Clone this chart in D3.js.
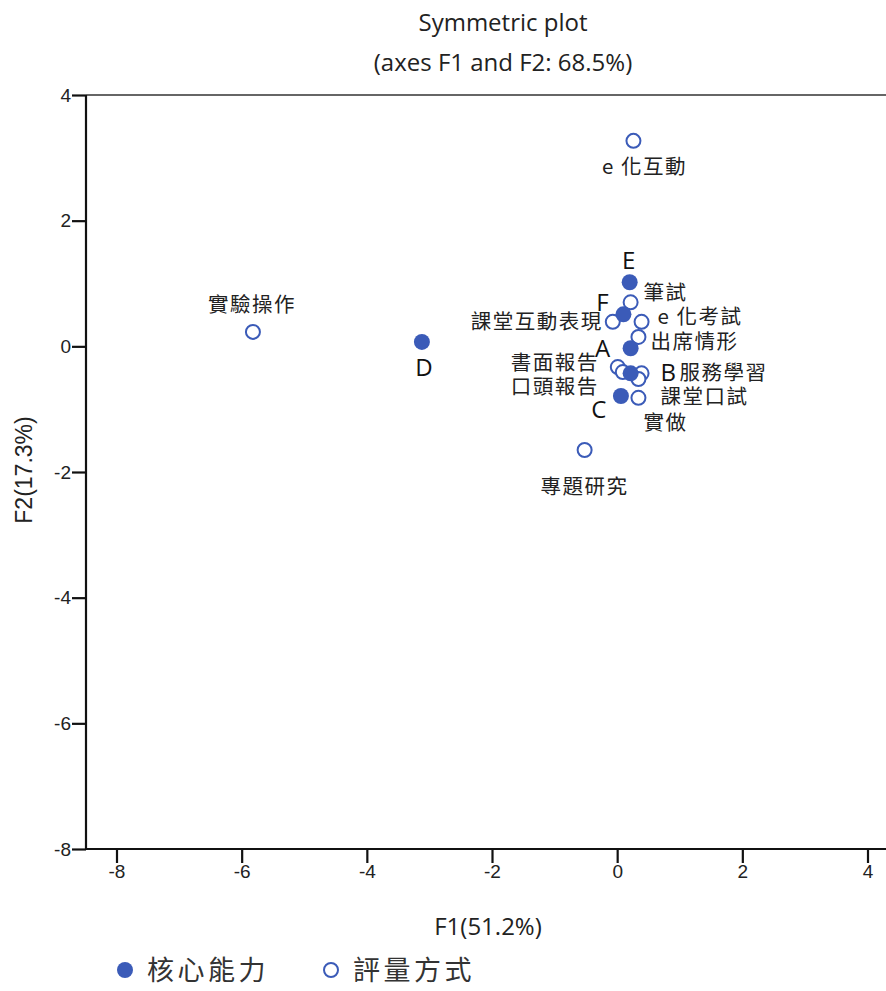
<!DOCTYPE html>
<html>
<head>
<meta charset="utf-8">
<script src="https://cdn.jsdelivr.net/npm/d3@7"></script>
<style>
  html, body { margin: 0; padding: 0; background: #fff; }
  svg { display: block; }
</style>
</head>
<body>
<svg id="chart" width="886" height="991"></svg>
<script>
// ---- Data ----
const coreLabels = ["A", "B", "C", "D", "E", "F"];
const coreF1 = [0.215, 0.215, 0.06, -3.12, 0.20, 0.10];
const coreF2 = [-0.03, -0.43, -0.79, 0.07, 1.02, 0.51];

const methodLabels = ["實驗操作", "e 化互動", "筆試", "課堂互動表現", "e 化考試", "出席情形",
                      "書面報告", "口頭報告", "服務學習", "課堂口試", "實做", "專題研究"];
const methodF1 = [-5.82, 0.26, 0.215, -0.07, 0.39, 0.34, 0.01, 0.09, 0.39, 0.34, 0.34, -0.52];
const methodF2 = [0.23, 3.27, 0.70, 0.39, 0.39, 0.15, -0.33, -0.41, -0.43, -0.52, -0.82, -1.65];

const xTicks = [-8, -6, -4, -2, 0, 2, 4];
const yTicks = [-8, -6, -4, -2, 0, 2, 4];

const titleLines = ["Symmetric plot", "(axes F1 and F2: 68.5%)"];
const xTitle = "F1(51.2%)";
const yTitle = "F2(17.3%)";
const legendNames = ["核心能力", "評量方式"];

// ---- Label placement (layout only) ----
const coreLabelPos = {
  "A": [-28, 0, "middle"], "B": [30, -1, "start"], "C": [-22, 14, "middle"],
  "D": [2, 26, "middle"], "E": [-1, -22, "middle"], "F": [-21, -12, "middle"]
};
const methodLabelPos = {
  "實驗操作": [-1, -27, "middle"], "e 化互動": [11, 26, "middle"], "筆試": [13, -10, "start"],
  "課堂互動表現": [-10, 0, "end"], "e 化考試": [16, -5, "start"], "出席情形": [12, 5, "start"],
  "書面報告": [-19, -4, "end"], "口頭報告": [-24, 15, "end"], "服務學習": [38, -1, "start"],
  "課堂口試": [22, 18, "start"], "實做": [5, 25, "start"], "專題研究": [0, 37, "middle"]
};

// ---- Drawing ----
const blue = "#3b5bb8";
const svg = d3.select("#chart");
const plotLeft = 86, plotTop = 95, plotBottom = 849;

const x0 = d3.scaleLinear().domain([-8, 4]).range([116.5, 867.5]);
const x = d3.scaleLinear().domain([x0.invert(plotLeft), x0.invert(900)]).range([plotLeft, 900]);
const y = d3.scaleLinear().domain([-8, 4]).range([plotBottom, plotTop]);

// title
svg.append("g").selectAll("text").data(titleLines).join("text")
  .attr("x", 503).attr("y", (d, i) => 31 + i * 40)
  .attr("text-anchor", "middle")
  .style("font-family", "'Open Sans', sans-serif").style("font-size", "24px").attr("fill", "#222")
  .text(d => d);

// top frame line
svg.append("line").attr("x1", plotLeft).attr("x2", 886).attr("y1", plotTop).attr("y2", plotTop)
  .attr("stroke", "#333").attr("stroke-width", 1.5);

// axes
const xAxis = d3.axisBottom(x).tickValues(xTicks).tickSize(14).tickPadding(2).tickFormat(d3.format("d"));
const gx = svg.append("g").attr("transform", `translate(0,${plotBottom})`).call(xAxis);
gx.select(".domain").attr("stroke", "#111").attr("stroke-width", 2.2).attr("d", `M${plotLeft},0H900`);
gx.selectAll(".tick line").attr("stroke", "#111").attr("stroke-width", 2.2);
gx.selectAll(".tick text").style("font-family", "'Liberation Sans', Arial, sans-serif")
  .style("font-size", "19px").attr("fill", "#222").text(d => d < 0 ? "-" + Math.abs(d) : d);

const yAxis = d3.axisLeft(y).tickValues(yTicks).tickSize(14).tickPadding(1).tickFormat(d3.format("d"));
const gy = svg.append("g").attr("transform", `translate(${plotLeft},0)`).call(yAxis);
gy.select(".domain").attr("stroke", "#111").attr("stroke-width", 2.2).attr("d", `M0,${plotTop}V${plotBottom}`);
gy.selectAll(".tick line").attr("stroke", "#111").attr("stroke-width", 2.2);
gy.selectAll(".tick text").style("font-family", "'Liberation Sans', Arial, sans-serif")
  .style("font-size", "19px").attr("fill", "#222").text(d => d < 0 ? "-" + Math.abs(d) : d);

// axis titles
svg.append("text").attr("x", 488).attr("y", 935).attr("text-anchor", "middle")
  .style("font-family", "'Open Sans', sans-serif").style("font-size", "24px").attr("fill", "#222")
  .text(xTitle);
svg.append("text").attr("transform", "translate(32,470) rotate(-90)").attr("text-anchor", "middle")
  .style("font-family", "'Liberation Sans', Arial, sans-serif").style("font-size", "23px").attr("fill", "#222")
  .text(yTitle);

// points
const methods = methodLabels.map((l, i) => ({label: l, f1: methodF1[i], f2: methodF2[i]}));
const cores = coreLabels.map((l, i) => ({label: l, f1: coreF1[i], f2: coreF2[i]}));

const gp = svg.append("g");
gp.selectAll("circle.m").data(methods).join("circle").attr("class", "m")
  .attr("cx", d => x(d.f1)).attr("cy", d => y(d.f2)).attr("r", 7)
  .attr("fill", "#fff").attr("stroke", blue).attr("stroke-width", 2);
gp.selectAll("circle.c").data(cores).join("circle").attr("class", "c")
  .attr("cx", d => x(d.f1)).attr("cy", d => y(d.f2)).attr("r", 8)
  .attr("fill", blue);

// labels
const gl = svg.append("g");
gl.selectAll("text.m").data(methods).join("text").attr("class", "m")
  .attr("x", d => x(d.f1) + methodLabelPos[d.label][0])
  .attr("y", d => y(d.f2) + methodLabelPos[d.label][1])
  .attr("dy", "0.35em")
  .attr("text-anchor", d => methodLabelPos[d.label][2])
  .style("font-family", "'Noto Sans CJK TC', sans-serif").style("font-size", "20.5px")
  .style("letter-spacing", "1.5px").attr("fill", "#222")
  .text(d => d.label);
gl.selectAll("text.c").data(cores).join("text").attr("class", "c")
  .attr("x", d => x(d.f1) + coreLabelPos[d.label][0])
  .attr("y", d => y(d.f2) + coreLabelPos[d.label][1])
  .attr("dy", "0.35em")
  .attr("text-anchor", d => coreLabelPos[d.label][2])
  .style("font-family", "'Open Sans', sans-serif").style("font-size", "24px").attr("fill", "#111")
  .text(d => d.label);

// legend
const lg = svg.append("g");
lg.append("circle").attr("cx", 125).attr("cy", 970).attr("r", 8).attr("fill", blue);
lg.append("text").attr("x", 147).attr("y", 970).attr("dy", "0.36em")
  .style("font-family", "'Noto Sans CJK TC', sans-serif").style("font-size", "27px")
  .style("letter-spacing", "3.5px").attr("fill", "#333").text(legendNames[0]);
lg.append("circle").attr("cx", 331).attr("cy", 970).attr("r", 7)
  .attr("fill", "#fff").attr("stroke", blue).attr("stroke-width", 2);
lg.append("text").attr("x", 353).attr("y", 970).attr("dy", "0.36em")
  .style("font-family", "'Noto Sans CJK TC', sans-serif").style("font-size", "27px")
  .style("letter-spacing", "3.5px").attr("fill", "#333").text(legendNames[1]);
</script>
</body>
</html>
